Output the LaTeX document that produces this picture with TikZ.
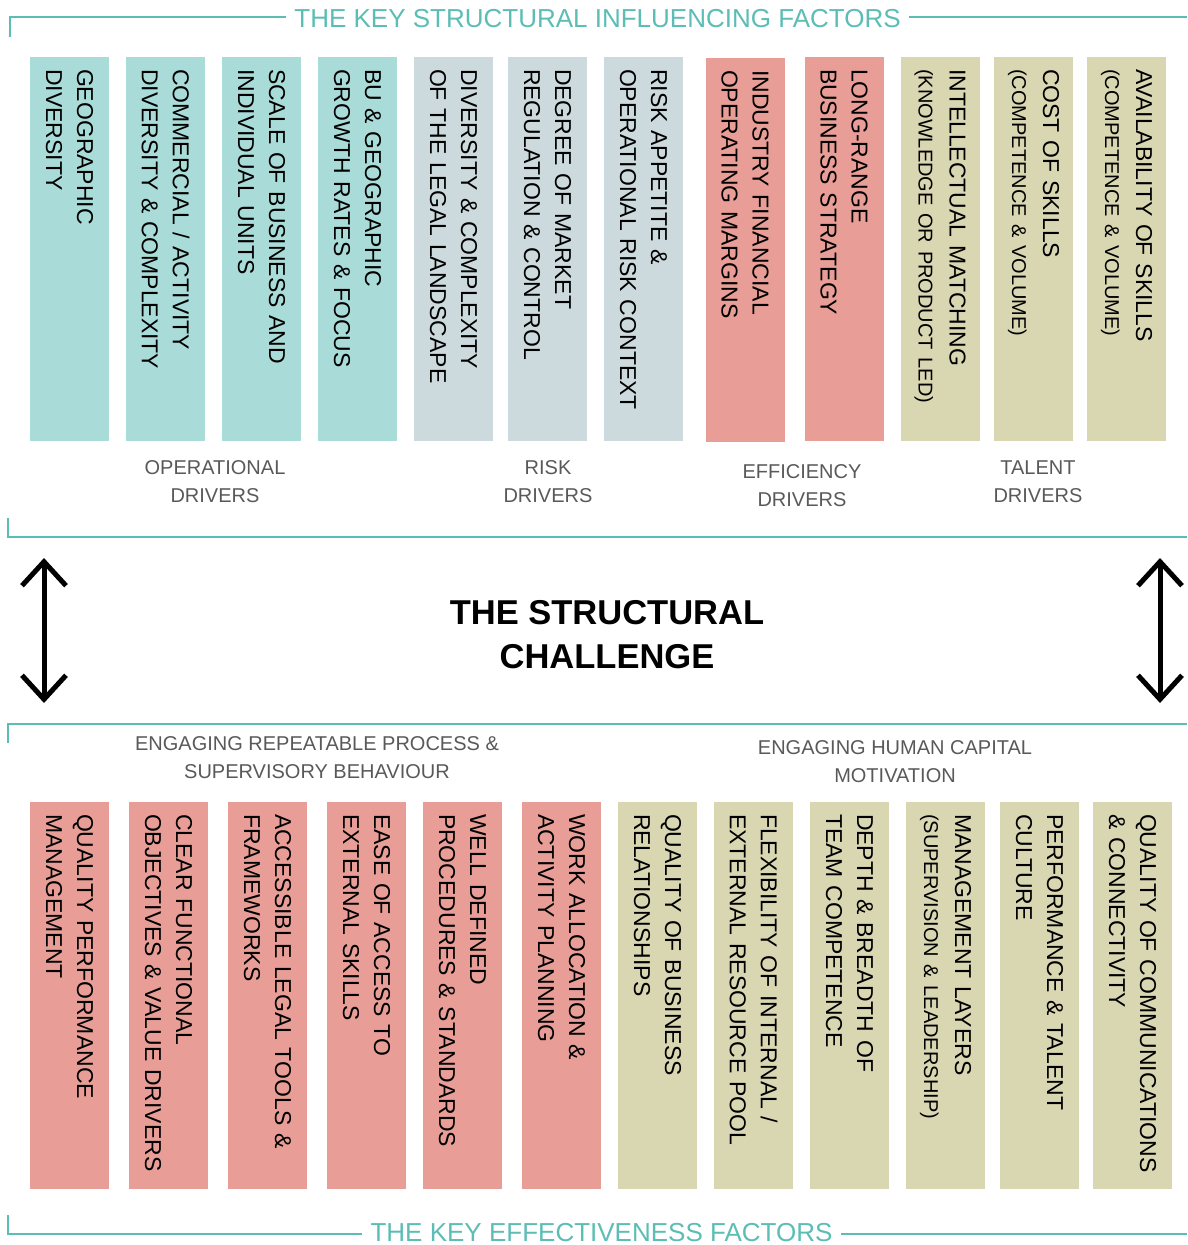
\documentclass[tikz,border=0pt]{standalone}
\usepackage{fontspec}
\setmainfont{Liberation Sans}
\usetikzlibrary{arrows.meta}

\definecolor{tealline}{HTML}{5BBDB4}
\definecolor{opfill}{HTML}{A9DCD8}
\definecolor{riskfill}{HTML}{CCDADD}
\definecolor{efffill}{HTML}{E89E96}
\definecolor{talentfill}{HTML}{D9D6B2}
\definecolor{labelgray}{HTML}{595959}

\tikzstyle{factor}=[rectangle,rotate=-90,minimum height=79pt,inner xsep=12pt,inner ysep=0pt,align=left,font=\fontsize{23}{31}\selectfont]
\tikzstyle{topbox}=[factor,text width=360pt]
\tikzstyle{lowbox}=[factor,text width=363pt]
\tikzstyle{drivers}=[align=center,text=labelgray,font=\fontsize{20}{28}\selectfont]
\tikzstyle{heading}=[text=tealline,inner xsep=8pt,inner ysep=1pt,font=\fontsize{26}{30}\selectfont]
\tikzstyle{frame}=[draw=tealline,line width=1.5pt]
\tikzstyle{twoway}=[draw,line width=5pt,{Straight Barb[length=24pt,width=44pt]}-{Straight Barb[length=24pt,width=44pt]}]
\newcommand{\sub}[1]{{\fontsize{20}{31}\selectfont #1}}

\begin{document}
\begin{tikzpicture}[x=1pt,y=-1pt]
    \useasboundingbox (0,0) rectangle (1187,1245);

    % structural influencing factors
    \node[topbox,fill=opfill] (s1) at (69.5,249) {GEOGRAPHIC\\DIVERSITY};
    \node[topbox,fill=opfill] (s2) at (165.5,249) {COMMERCIAL / ACTIVITY\\DIVERSITY \& COMPLEXITY};
    \node[topbox,fill=opfill] (s3) at (261.5,249) {SCALE OF BUSINESS AND\\INDIVIDUAL UNITS};
    \node[topbox,fill=opfill] (s4) at (357.5,249) {BU \& GEOGRAPHIC\\GROWTH RATES \& FOCUS};
    \node[topbox,fill=riskfill] (s5) at (453.5,249) {DIVERSITY \& COMPLEXITY\\OF THE LEGAL LANDSCAPE};
    \node[topbox,fill=riskfill] (s6) at (547.5,249) {DEGREE OF MARKET\\REGULATION \& CONTROL};
    \node[topbox,fill=riskfill] (s7) at (643.5,249) {RISK APPETITE \&\\OPERATIONAL RISK CONTEXT};
    \node[topbox,fill=efffill] (s8) at (745,250) {INDUSTRY FINANCIAL\\OPERATING MARGINS};
    \node[topbox,fill=efffill] (s9) at (844,249) {LONG-RANGE\\BUSINESS STRATEGY};
    \node[topbox,fill=talentfill] (s10) at (940,249) {INTELLECTUAL MATCHING\\\sub{(KNOWLEDGE OR PRODUCT LED)}};
    \node[topbox,fill=talentfill] (s11) at (1033.5,249) {COST OF SKILLS\\\sub{(COMPETENCE \& VOLUME)}};
    \node[topbox,fill=talentfill] (s12) at (1126.5,249) {AVAILABILITY OF SKILLS\\\sub{(COMPETENCE \& VOLUME)}};

    \node[drivers] (op) at (215,482) {OPERATIONAL\\DRIVERS};
    \node[drivers] (risk) at (548,482) {RISK\\DRIVERS};
    \node[drivers] (eff) at (802,486) {EFFICIENCY\\DRIVERS};
    \node[drivers] (talent) at (1038,482) {TALENT\\DRIVERS};

    % frame lines and headings
    \coordinate (t0) at (10,37);
    \coordinate (t1) at (1187,17);
    \node[heading] (ktop) at (597.5,19) {THE KEY STRUCTURAL INFLUENCING FACTORS};
    \draw[frame] (t0) |- (ktop.west |- t1);
    \draw[frame] (ktop.east |- t1) -- (t1);

    \coordinate (m0) at (8,518);
    \coordinate (m1) at (1187,537);
    \draw[frame] (m0) |- (m1);
    \coordinate (n0) at (8,743);
    \coordinate (n1) at (1187,724);
    \draw[frame] (n0) |- (n1);

    \coordinate (b0) at (8,1215);
    \coordinate (b1) at (1187,1234);
    \node[heading] (kbot) at (601.5,1233) {THE KEY EFFECTIVENESS FACTORS};
    \draw[frame] (b0) |- (kbot.west |- b1);
    \draw[frame] (kbot.east |- b1) -- (b1);

    % the challenge in the middle
    \node[align=center,font=\fontsize{34.5}{44}\selectfont\bfseries] (core) at (607,635) {THE STRUCTURAL\\CHALLENGE};
    \coordinate (la) at (44,558);
    \coordinate (lb) at (44,703);
    \coordinate (ra) at (1160,558);
    \coordinate (rb) at (1160,703);
    \path[twoway] (la) -- (lb);
    \path[twoway] (ra) -- (rb);

    \node[drivers] (process) at (317,757.5) {ENGAGING REPEATABLE PROCESS \&\\SUPERVISORY BEHAVIOUR};
    \node[drivers] (human) at (895,762) {ENGAGING HUMAN CAPITAL\\MOTIVATION};

    % effectiveness factors
    \node[lowbox,fill=efffill] (e1) at (69.5,995.5) {QUALITY PERFORMANCE\\MANAGEMENT};
    \node[lowbox,fill=efffill] (e2) at (168.5,995.5) {CLEAR FUNCTIONAL\\OBJECTIVES \& VALUE DRIVERS};
    \node[lowbox,fill=efffill] (e3) at (267.5,995.5) {ACCESSIBLE LEGAL TOOLS \&\\FRAMEWORKS};
    \node[lowbox,fill=efffill] (e4) at (366.5,995.5) {EASE OF ACCESS TO\\EXTERNAL SKILLS};
    \node[lowbox,fill=efffill] (e5) at (462.5,995.5) {WELL DEFINED\\PROCEDURES \& STANDARDS};
    \node[lowbox,fill=efffill] (e6) at (561.5,995.5) {WORK ALLOCATION \&\\ACTIVITY PLANNING};
    \node[lowbox,fill=talentfill] (e7) at (657.5,995.5) {QUALITY OF BUSINESS\\RELATIONSHIPS};
    \node[lowbox,fill=talentfill] (e8) at (753.5,995.5) {FLEXIBILITY OF INTERNAL /\\EXTERNAL RESOURCE POOL};
    \node[lowbox,fill=talentfill] (e9) at (849.5,995.5) {DEPTH \& BREADTH OF\\TEAM COMPETENCE};
    \node[lowbox,fill=talentfill] (e10) at (945.5,995.5) {MANAGEMENT LAYERS\\\sub{(SUPERVISION \& LEADERSHIP)}};
    \node[lowbox,fill=talentfill] (e11) at (1039.5,995.5) {PERFORMANCE \& TALENT\\CULTURE};
    \node[lowbox,fill=talentfill] (e12) at (1132.5,995.5) {QUALITY OF COMMUNICATIONS\\\& CONNECTIVITY};
\end{tikzpicture}
\end{document}
